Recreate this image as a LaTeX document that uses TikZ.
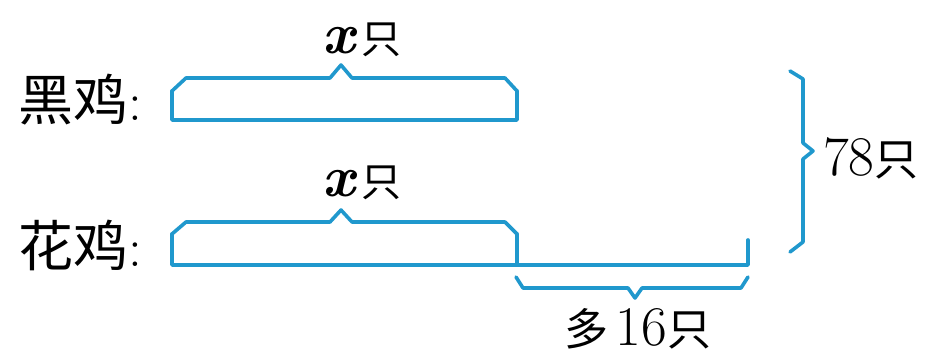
\documentclass[tikz,border=0pt]{standalone}
\usepackage{fontspec}
\newfontfamily\cjk{Noto Sans CJK SC}
\definecolor{barblue}{RGB}{32,152,205}
\newcommand{\xvar}{{\rmfamily\bfseries\itshape\fontsize{58}{58}\selectfont x}}
\begin{document}
\begin{tikzpicture}[x=1pt,y=-1pt,
  bar/.style={draw=barblue,line width=3.6pt,line join=round,line cap=round},
  biglbl/.style={inner sep=0pt,font=\cjk\fontsize{55}{55}\selectfont},
  lbl/.style={inner sep=0pt,font=\cjk\fontsize{40}{40}\selectfont},
  numlbl/.style={inner sep=0pt,font=\fontsize{56}{56}\selectfont}]
\useasboundingbox (0,0) rectangle (932,358);

% row labels
\node[biglbl] (hei) at (80,100) {黑鸡\rmfamily:};
\node[biglbl] (hua) at (80,245) {花鸡\rmfamily:};

% black chickens: one bar with its brace
\draw[bar] (172,91) -- (172,120) -- (517,120) -- (517,91);
\draw[bar] (172,91) -- (186,78) -- (330,78) -- (341,65) -- (352,78) -- (505,78) -- (517,91);
\node[lbl] (xa) at (362,40) {\xvar\,只};

% flower chickens: same bar plus the extra part
\draw[bar] (172,234) -- (172,265) -- (748,265) -- (748,240);
\draw[bar] (517,234) -- (517,265);
\draw[bar] (172,234) -- (186,222) -- (330,222) -- (341,210) -- (352,222) -- (505,222) -- (517,234);
\node[lbl] (xb) at (362,183) {\xvar\,只};

% extra part below
\draw[bar] (516,277) -- (523,288) -- (628,288) -- (635,298) -- (642,288) -- (741,288) -- (748,277);
\node[lbl] (more) at (638,329) {\fontsize{44}{44}\selectfont 多\,\rmfamily\fontsize{56}{56}\selectfont 16\cjk\fontsize{44}{44}\selectfont 只};

% total brace on the right
\draw[bar] (790,71) -- (803,79) -- (803,143) -- (813,151) -- (803,159) -- (803,242) -- (790,252);
\node[numlbl,anchor=west] (total) at (823,158) {78\cjk\fontsize{44}{44}\selectfont 只};
\end{tikzpicture}
\end{document}
